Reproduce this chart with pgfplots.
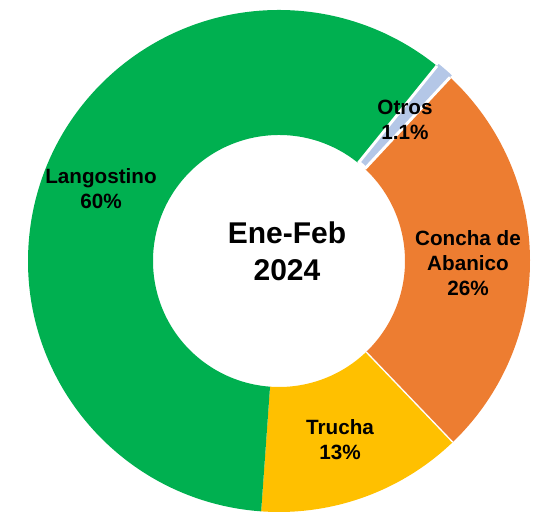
\documentclass[border=0pt]{standalone}
\usepackage{pgfplots}
\pgfplotsset{compat=1.18}
\usepackage{fontspec}
\setmainfont{Liberation Sans}
\definecolor{cLan}{HTML}{00B050}
\definecolor{cCon}{HTML}{ED7D31}
\definecolor{cTru}{HTML}{FFC000}
\definecolor{cOtr}{HTML}{B4C7E7}
\begin{document}
\begin{tikzpicture}
\begin{axis}[x=0.75pt,y=0.75pt,xmin=0,xmax=535,ymin=0,ymax=513,
  hide axis,clip=false,scale only axis]
\coordinate (BL) at (axis cs:0,0);
\coordinate (TR) at (axis cs:535,513);
\def\Rout{188.25pt}\def\Rin{94.5pt}
\xdef\curang{51}
% value / colour / explode
\foreach \myval/\mycol/\myex in {1.1/cOtr/2pt, 25.9/cCon/0pt, 13.3/cTru/0pt, 59.7/cLan/0pt}{
  \pgfmathsetmacro{\endang}{\curang - \myval*3.6}
  \pgfmathsetmacro{\midang}{(\curang+\endang)/2}
  \edef\temp{\noexpand\path[fill=\mycol, shift={(\midang:\myex)}]
    ([shift={(\curang:\Rout)}]axis cs:279,252) arc[start angle=\curang, end angle=\endang, radius=\Rout]
    -- ([shift={(\endang:\Rin)}]axis cs:279,252) arc[start angle=\endang, end angle=\curang, radius=\Rin] -- cycle;}
  \temp
  \xdef\curang{\endang}
}
% white separators
\xdef\curang{51}
\foreach \myval/\mylw in {1.1/2.2pt, 25.9/1.0pt, 13.3/0pt, 59.7/2.2pt}{
  \pgfmathsetmacro{\endang}{\curang - \myval*3.6}
  \ifdim\mylw>0pt
  \edef\temp{\noexpand\draw[white, line width=\mylw] ([shift={(\endang:\Rin)}]axis cs:279,252) -- ([shift={(\endang:\Rout)}]axis cs:279,252);}
  \temp
  \fi
  \xdef\curang{\endang}
}
\tikzset{lab/.style={align=center, font=\bfseries\fontsize{15.5}{18.8}\selectfont, inner sep=0pt}}
\node[lab] at (axis cs:101,324) {Langostino\\60\%};
\node[lab] at (axis cs:405,393) {Otros\\1.1\%};
\node[lab] at (axis cs:468,250) {Concha de\\Abanico\\26\%};
\node[lab] at (axis cs:340,73) {Trucha\\13\%};
\node[align=center, font=\bfseries\fontsize{22.5}{27.75}\selectfont, inner sep=0pt] at (axis cs:287,262) {Ene-Feb\\2024};
\end{axis}
\pgfresetboundingbox
\useasboundingbox (BL) rectangle (TR);
\end{tikzpicture}
\end{document}
